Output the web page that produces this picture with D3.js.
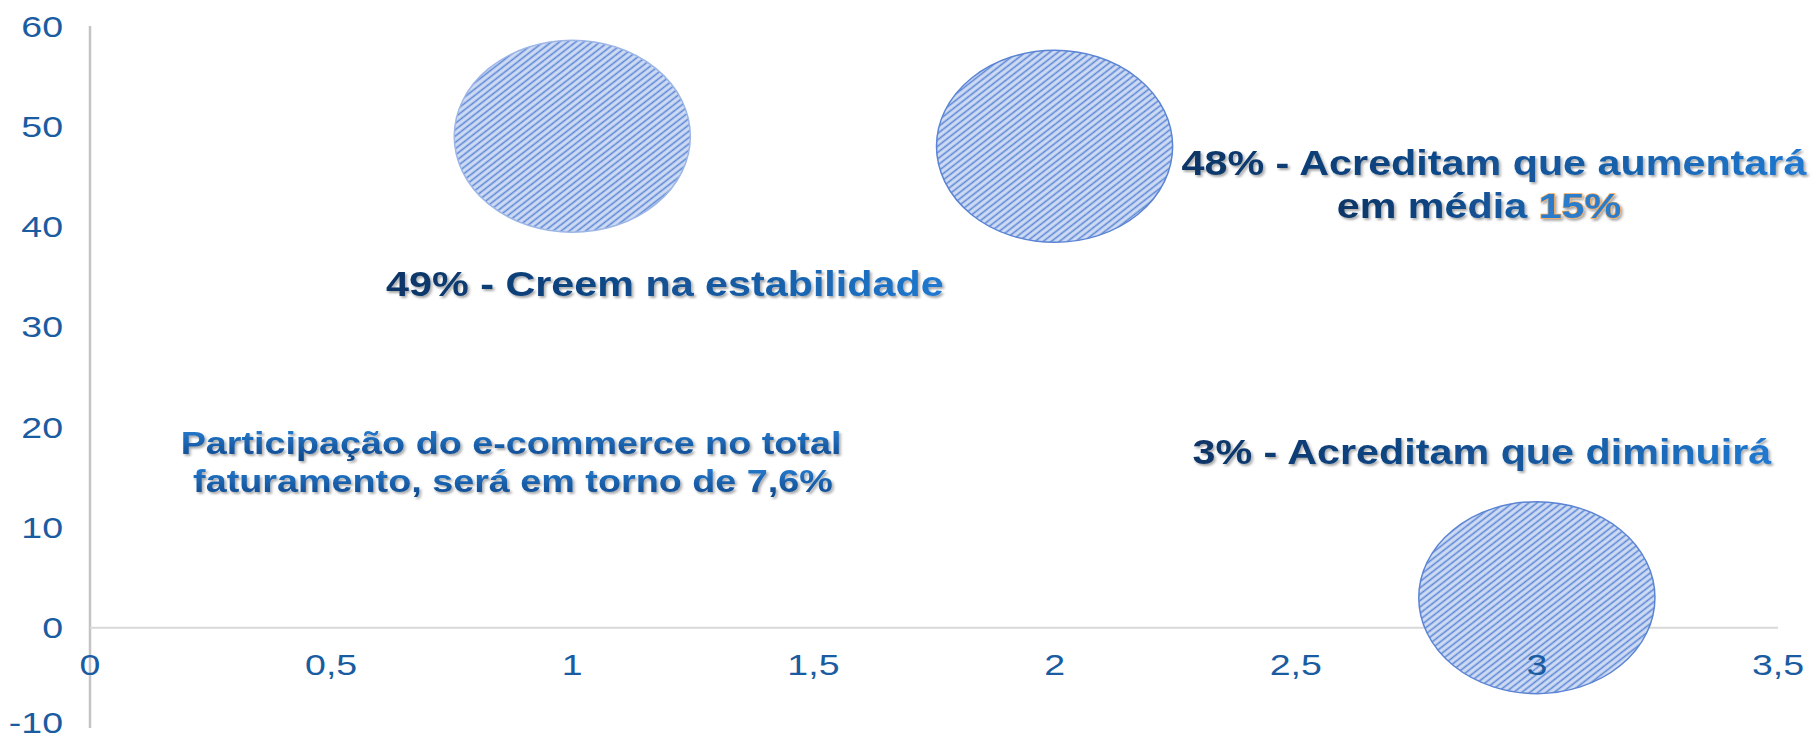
<!DOCTYPE html>
<html>
<head>
<meta charset="utf-8">
<script src="https://cdn.jsdelivr.net/npm/d3@7"></script>
<style>
  body { margin: 0; background: #fff; }
  svg { display: block; font-family: Arial, "Liberation Sans", sans-serif; }
</style>
</head>
<body>
<svg id="chart" width="1817" height="738"></svg>
<script>
// data
const bubbleX = [1, 2, 3];
const bubbleY = [49, 48, 3];
const bubbleSize = [10, 10, 10];
const xTicks = [0, 0.5, 1, 1.5, 2, 2.5, 3, 3.5];
const yTicks = [-10, 0, 10, 20, 30, 40, 50, 60];

const W = 1817, H = 738;
const stretch = 1.18; // the picture is wider than tall, text too
const tickStretch = 1.25;

const svg = d3.select("#chart");
const defs = svg.append("defs");

let x = d3.scaleLinear().domain([0, 3.5]).range([90, 1778]);
let y = d3.scaleLinear().domain([-10, 60]).range([728, 26]);
let r = d3.scaleSqrt().domain([0, 10]).range([0, 96]);

// hatch fill for bubbles
const pat = defs.append("pattern")
  .attr("id", "hatch")
  .attr("patternUnits", "userSpaceOnUse")
  .attr("width", 5).attr("height", 5)
  .attr("patternTransform", "rotate(-38)");
pat.append("rect").attr("width", 5).attr("height", 5).attr("fill", "#cfdcf3");
pat.append("line").attr("x1", 0).attr("y1", 2.5).attr("x2", 5).attr("y2", 2.5)
  .attr("stroke", "#5c87d6").attr("stroke-width", 1.6);

// text gradients + shadow
const gH = defs.append("linearGradient").attr("id", "gradH")
  .attr("x1", 0).attr("y1", 0).attr("x2", 1).attr("y2", 0);
gH.append("stop").attr("offset", "0%").attr("stop-color", "#0b3566");
gH.append("stop").attr("offset", "35%").attr("stop-color", "#0f4582");
gH.append("stop").attr("offset", "100%").attr("stop-color", "#2079d0");

const gV = defs.append("linearGradient").attr("id", "gradV")
  .attr("x1", 0).attr("y1", 0).attr("x2", 0).attr("y2", 1);
gV.append("stop").attr("offset", "0%").attr("stop-color", "#2a82d8");
gV.append("stop").attr("offset", "100%").attr("stop-color", "#0c4588");

const sh = defs.append("filter").attr("id", "shadow")
  .attr("x", "-5%").attr("y", "-20%").attr("width", "110%").attr("height", "150%");
sh.append("feDropShadow").attr("dx", 1.5).attr("dy", 2).attr("stdDeviation", 1.2)
  .attr("flood-color", "#000").attr("flood-opacity", 0.35);

// axis lines
svg.append("line")
  .attr("x1", x(0)).attr("x2", x(0))
  .attr("y1", y(60)).attr("y2", y(-10))
  .attr("stroke", "#c4c4c4").attr("stroke-width", 2.5);
svg.append("line")
  .attr("x1", x(0)).attr("x2", x(3.5))
  .attr("y1", y(0)).attr("y2", y(0))
  .attr("stroke", "#d9d9d9").attr("stroke-width", 2);

// bubbles
svg.selectAll("ellipse.bubble")
  .data(bubbleX.map((d, i) => ({x: d, y: bubbleY[i], s: bubbleSize[i]})))
  .join("ellipse")
  .attr("class", "bubble")
  .attr("cx", d => x(d.x))
  .attr("cy", d => y(d.y))
  .attr("rx", d => r(d.s) * 1.23)
  .attr("ry", d => r(d.s))
  .attr("fill", "url(#hatch)")
  .attr("stroke", (d, i) => i == 0 ? "#9db6e6" : "#5b84d4")
  .attr("stroke-width", 1.5);

const fmt = v => String(v).replace(".", ",");

// y tick labels
svg.selectAll("g.ytick")
  .data(yTicks)
  .join("g")
  .attr("class", "ytick")
  .attr("transform", d => `translate(63,${y(d) - (d == -10 ? 6 : 0)}) scale(${tickStretch},1)`)
  .append("text")
  .attr("text-anchor", "end")
  .attr("dy", "0.35em")
  .attr("font-size", 30)
  .attr("fill", "#1a5ca2")
  .text(d => d);

// x tick labels
svg.selectAll("g.xtick")
  .data(xTicks)
  .join("g")
  .attr("class", "xtick")
  .attr("transform", d => `translate(${x(d)},${y(0) + 37}) scale(${tickStretch},1)`)
  .append("text")
  .attr("text-anchor", "middle")
  .attr("dy", "0.35em")
  .attr("font-size", 30)
  .attr("fill", "#1a5ca2")
  .text(d => fmt(d));

// annotations (anchored in data units)
function note(cx, cy, size, grad, parts) {
  const g = svg.append("g")
    .attr("transform", `translate(${x(cx)},${y(cy)}) scale(${stretch},1)`);
  const t = g.append("text")
    .attr("text-anchor", "middle")
    .attr("dy", "0.35em")
    .attr("font-size", size)
    .attr("font-weight", "bold")
    .attr("fill", `url(#${grad})`)
    .attr("filter", "url(#shadow)");
  parts.forEach(p => {
    const ts = t.append("tspan").text(p.t);
    if (p.hi) {
      ts.attr("fill", "#2a7ccc").attr("stroke", "#f0a55a")
        .attr("stroke-width", 1.4).attr("paint-order", "stroke");
    }
  });
  return t;
}

note(1.192, 34.3, 35, "gradH", [{t: "49% - Creem na estabilidade"}]);
note(2.911, 46.4, 35, "gradH", [{t: "48% - Acreditam  que aumentará"}]);
note(2.88, 42.1, 35, "gradH", [{t: "em média "}, {t: "15%", hi: true}]);
note(2.886, 17.5, 35, "gradH", [{t: "3% - Acreditam  que diminuirá"}]);
note(0.873, 18.4, 32, "gradV", [{t: "Participação do e-commerce no total"}]);
note(0.877, 14.6, 32, "gradV", [{t: "faturamento, será em torno de 7,6%"}]);
</script>
</body>
</html>
